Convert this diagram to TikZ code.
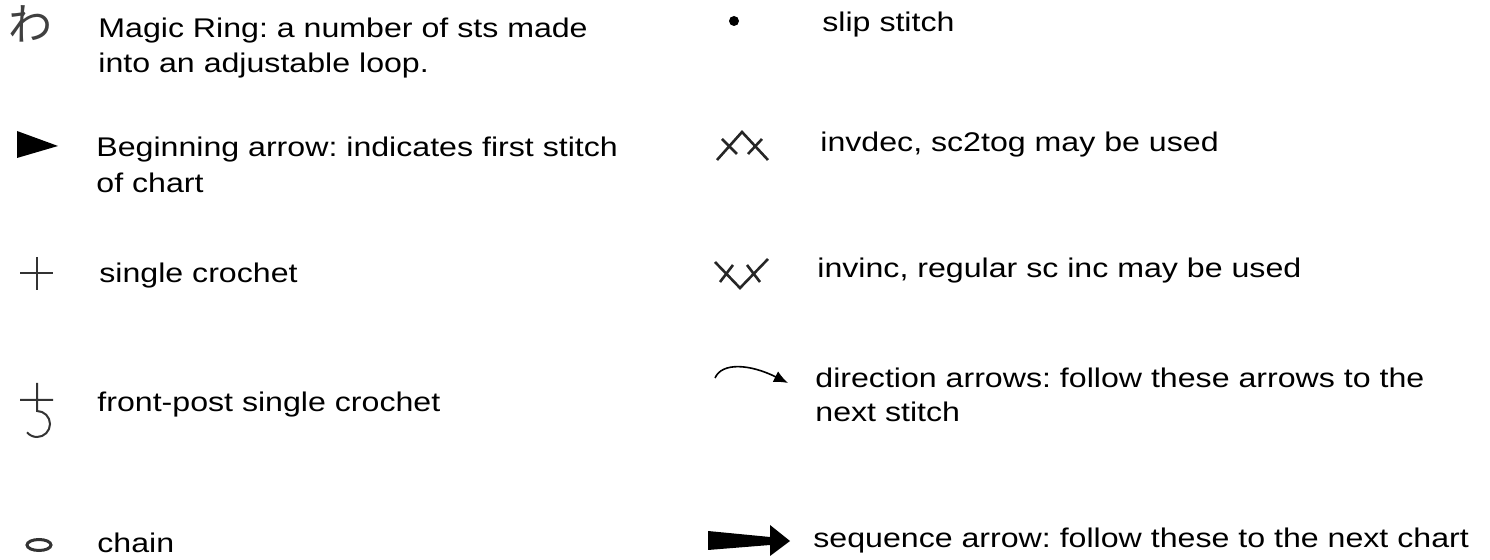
\documentclass[tikz,border=0pt]{standalone}
\usepackage{fontspec}
\setmainfont{Liberation Sans}[FakeStretch=1.19]
\newfontfamily\cjkfont{Noto Sans CJK JP}
\usetikzlibrary{arrows.meta}
\tikzset{%
 >={Latex[length=7pt, width=6pt]},
 legendtext/.style={anchor=base west, inner sep=0pt, align=left, font=\fontsize{13.5}{17.5}\selectfont},
 stitch/.style={line width=1pt, draw=black!80},
 xstitch/.style={line width=1.3pt, draw=black!85}
}
\frenchspacing

\begin{document}
\begin{tikzpicture}[x=.5pt, y=-.5pt]
 \useasboundingbox (0,0) rectangle (1490,560);
 % left column symbols
 \node (ring) at (31,24) [inner sep=0pt, text=black!75, font=\cjkfont\fontsize{22}{22}\selectfont] {わ};
 \fill (17,131) -- (58,146) -- (17,158) -- cycle;
 \draw [stitch] (20,273) -- (53,273) (37,257) -- (37,290);
 \draw [stitch] (20,400) -- (53,400) (37,383) -- (37,411) arc [start angle=-90, end angle=140, radius=13];
 \draw [stitch, line width=1.5pt] (39,545) ellipse [x radius=12, y radius=5.5];
 % right column symbols
 \fill (734,21) circle [radius=5];
 \draw [xstitch] (717,160) -- (742,132) -- (768,160) (722,139) -- (737,154) (748,154) -- (762,139);
 \draw [xstitch] (715,262) -- (740,288) -- (768,259) (733,265) -- (720,282) (747,265) -- (760,282);
 \draw [->, line width=.8pt] (715,378) .. controls (722,362) and (750,364) .. (788,383);
 \fill (708,531) -- (770,537) -- (770,525) -- (790,541) -- (770,556) -- (770,545) -- (708,550) -- cycle;
 % texts (multi-line nodes sit on their last baseline)
 \node (ringtext) at (98,73) [legendtext] {Magic Ring: a number of sts made\\into an adjustable loop.};
 \node (begintext) at (96,193) [legendtext, font=\fontsize{13.5}{18}\selectfont] {Beginning arrow: indicates first stitch\\of chart};
 \node (sctext) at (99,283) [legendtext] {single crochet};
 \node (fpsctext) at (97,412) [legendtext] {front-post single crochet};
 \node (chtext) at (97,553) [legendtext] {chain};
 \node (slsttext) at (822,32) [legendtext] {slip stitch};
 \node (dectext) at (820,152) [legendtext] {invdec, sc2tog may be used};
 \node (inctext) at (817,278) [legendtext] {invinc, regular sc inc may be used};
 \node (dirtext) at (815,422) [legendtext, font=\fontsize{13.5}{17}\selectfont] {direction arrows: follow these arrows to the\\next stitch};
 \node (seqtext) at (813,548) [legendtext] {sequence arrow: follow these to the next chart};
\end{tikzpicture}
\end{document}
